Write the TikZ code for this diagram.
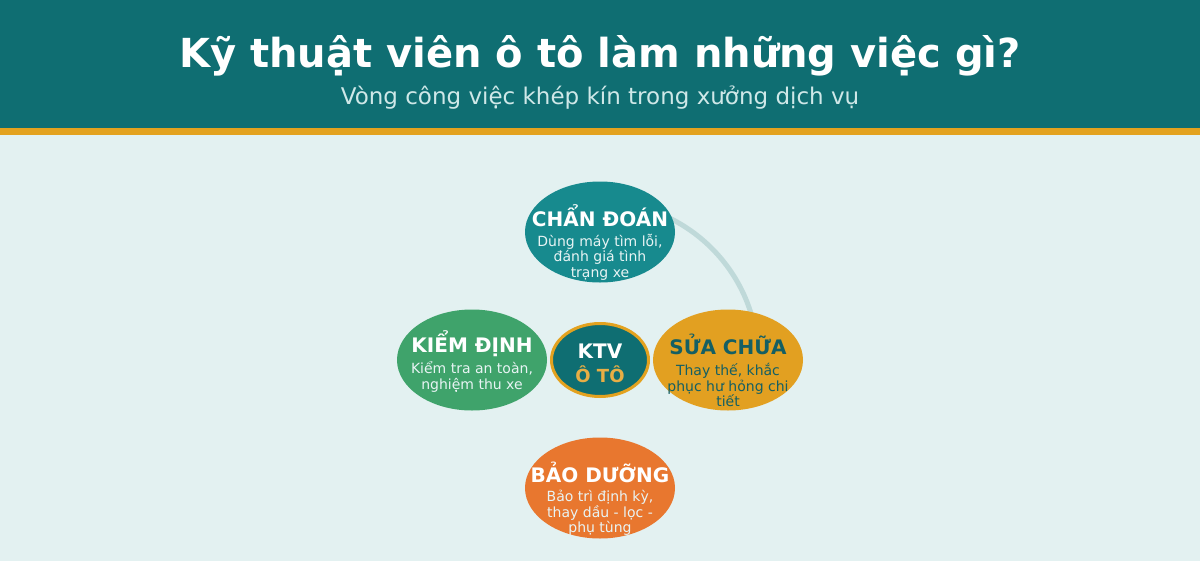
\documentclass[tikz,border=0pt]{standalone}
\usepackage{fontspec}
\setmainfont{DejaVu Sans}
\usetikzlibrary{shapes.geometric}
\definecolor{bg}{HTML}{E3F1F1}
\definecolor{head}{HTML}{0F6E72}
\definecolor{stripe}{HTML}{E3A21F}
\definecolor{subt}{HTML}{CFE8E8}
\definecolor{cteal}{HTML}{178A8E}
\definecolor{corange}{HTML}{E2A021}
\definecolor{cgreen}{HTML}{3FA36B}
\definecolor{cred}{HTML}{E8772F}
\definecolor{darkt}{HTML}{145F63}
\definecolor{ring}{HTML}{BFD9D9}
\definecolor{descw}{HTML}{E8F4F4}
\definecolor{oto}{HTML}{E8AE45}
\tikzset{
  x=1pt,y=-1pt,
  stage/.style={ellipse, minimum width=150pt, minimum height=101pt, inner sep=0pt, draw=none},
  ttl/.style={font=\fontsize{20}{22}\selectfont\bfseries, text=white},
  dsc/.style={font=\fontsize{14}{15.5}\selectfont, text=descw, align=center},
}
\begin{document}
\begin{tikzpicture}
\useasboundingbox (0,0) rectangle (1200,560);
\fill[bg] (-5,-5) rectangle (1205,565);
\fill[head] (-5,-5) rectangle (1205,128);
\fill[stripe] (-5,128) rectangle (1205,135);
\node[font=\fontsize{40}{44}\selectfont\bfseries, text=white] (title) at (600,56) {Kỹ thuật viên ô tô làm những việc gì?};
\node[font=\fontsize{23}{25}\selectfont, text=subt] (sub) at (600,98) {Vòng công việc khép kín trong xưởng dịch vụ};
% ring arc
\coordinate (ctr) at (600,360);
\draw[ring, line width=5pt] (600,202) arc[start angle=-90, end angle=0, radius=158];
% stages
\node[stage, fill=cteal] (diag) at (600,232) {};
\node[ttl] (diagT) at (600,216) {CHẨN ĐOÁN};
\node[dsc] (diagD) at (600,257) {Dùng máy tìm lỗi,\\đánh giá tình\\trạng xe};
\node[stage, fill=corange] (rep) at (728,360) {};
\node[ttl, text=darkt] (repT) at (728,344) {SỬA CHỮA};
\node[dsc, text=darkt] (repD) at (728,385) {Thay thế, khắc\\phục hư hỏng chi\\tiết};
\node[stage, fill=cgreen] (insp) at (472,360) {};
\node[ttl] (inspT) at (472,344) {KIỂM ĐỊNH};
\node[dsc] (inspD) at (472,377) {Kiểm tra an toàn,\\nghiệm thu xe};
\node[stage, fill=cred] (maint) at (600,488) {};
\node[ttl] (maintT) at (600,472) {BẢO DƯỠNG};
\node[dsc] (maintD) at (600,513) {Bảo trì định kỳ,\\thay dầu - lọc -\\phụ tùng};
% center
\node[ellipse, minimum width=97pt, minimum height=73pt, fill=head, draw=stripe, line width=3pt] (ktv) at (600,360) {};
\node[font=\fontsize{20}{22}\selectfont\bfseries, text=white] (ktvT) at (600,351) {KTV};
\node[font=\fontsize{18}{20}\selectfont\bfseries, text=oto] (ktvO) at (600,374) {Ô TÔ};
\end{tikzpicture}
\end{document}
